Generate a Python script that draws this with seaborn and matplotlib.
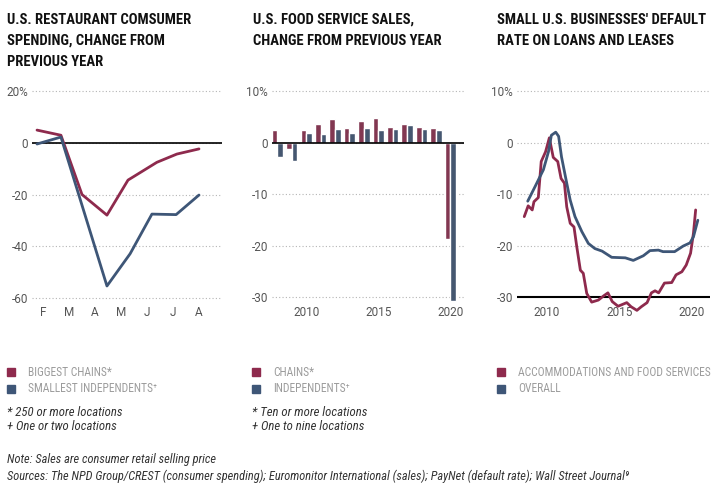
import matplotlib
matplotlib.use("Agg")
import matplotlib.pyplot as plt
import matplotlib.font_manager as fm
from matplotlib.patches import Rectangle
import seaborn as sns
import pandas as pd

RED = "#8e2a4d"
BLUE = "#3e5677"

# chart 1: restaurant consumer spending (month index, F = 0)
months = ["F", "M", "A", "M", "J", "J", "A"]
chains_x = [-0.23, 0.69, 1.5, 2.46, 3.27, 4.38, 5.15, 6.0]
chains_y = [5.0, 3.0, -20.0, -28.0, -14.4, -7.5, -4.3, -2.3]
indep_x = [-0.23, 0.69, 2.46, 3.35, 4.19, 5.12, 6.0]
indep_y = [-0.4, 2.3, -55.5, -43.0, -27.6, -27.8, -20.2]

# chart 2: food service sales
years = list(range(2008, 2021))
sales_chains = [2.5, -1.2, 2.5, 3.6, 4.6, 3.0, 4.2, 4.85, 3.2, 3.7, 3.1, 3.0, -18.6]
sales_indep = [-2.65, -3.5, 1.9, 1.7, 2.8, 1.9, 3.0, 2.5, 2.8, 3.5, 2.8, 2.5, -30.6]

# chart 3: default rate
accom_x = [2008.43, 2008.7, 2008.98, 2009.1, 2009.4, 2009.6, 2009.9, 2010.16, 2010.43,
           2010.74, 2010.97, 2011.2, 2011.36, 2011.6, 2011.86, 2012.05, 2012.3, 2012.5,
           2012.74, 2013.08, 2013.54, 2013.9, 2014.2, 2014.5, 2014.9, 2015.5, 2015.8,
           2016.2, 2016.5, 2016.9, 2017.2, 2017.45, 2017.7, 2018.1, 2018.6, 2018.9,
           2019.3, 2019.6, 2019.9, 2020.1, 2020.25]
accom_y = [-14.3, -12.2, -13.0, -11.4, -10.6, -3.6, -1.7, 1.0, -2.8, -3.6, -6.9, -7.8,
           -12.4, -15.6, -16.3, -20.1, -24.7, -25.3, -29.2, -30.9, -30.5, -29.7, -29.1,
           -30.8, -31.7, -31.0, -31.8, -32.5, -31.8, -31.0, -29.1, -28.7, -29.1, -27.2,
           -27.1, -25.6, -25.0, -23.7, -21.4, -17.5, -13.0]
overall_x = [2008.67, 2009.17, 2009.75, 2010.1, 2010.3, 2010.6, 2010.8, 2011.0, 2011.36,
             2011.6, 2011.93, 2012.4, 2012.85, 2013.3, 2013.8, 2014.46, 2015.4, 2015.95,
             2016.64, 2017.1, 2017.68, 2018.0, 2018.8, 2019.4, 2019.86, 2020.1, 2020.4]
overall_y = [-11.3, -8.5, -5.2, -1.7, 1.5, 2.1, 1.3, -2.7, -7.8, -11.1, -14.3, -17.2,
             -19.5, -20.5, -21.0, -22.2, -22.3, -22.8, -21.9, -20.9, -20.8, -21.1, -21.1,
             -20.0, -19.4, -18.2, -15.0]

sns.set_style("white")
plt.rcParams["font.family"] = ["Roboto", "DejaVu Sans"]


def pick(bold=False, italic=False):
    # look for a condensed / narrow face, else plain Roboto
    want = 700 if bold else 400
    best = None
    for f in fm.fontManager.ttflist:
        if not ("Condensed" in f.name or "Narrow" in f.name
                or str(f.stretch) in ("condensed", "semi-condensed")):
            continue
        w = f.weight if isinstance(f.weight, int) else fm.weight_dict.get(f.weight, 400)
        if (f.style in ("italic", "oblique")) != italic:
            continue
        score = abs(w - want) + (0 if "Roboto" in f.name else 50)
        if best is None or score < best[0]:
            best = (score, f)
    if best:
        return fm.FontProperties(fname=best[1].fname), True
    return fm.FontProperties(family="Roboto", weight="bold" if bold else "normal",
                             style="italic" if italic else "normal"), False


def fp(base, size):
    p = base.copy()
    p.set_size(size)
    return p


TITLE_FONT, cond = pick(bold=True)
LEG_FONT, _ = pick(bold=False)
NOTE_FONT, _ = pick(italic=True)

fig = plt.figure(figsize=(7.26, 4.95), dpi=100)
W, H = 726, 495


def px_axes(x0, x1, y0, y1):
    return fig.add_axes([x0 / W, 1 - y1 / H, (x1 - x0) / W, (y1 - y0) / H])


def style(ax, ticks, labels):
    for s in ax.spines.values():
        s.set_visible(False)
    ax.set_yticks(ticks)
    ax.set_yticklabels(labels)
    ax.tick_params(length=0, labelsize=8.5, colors="#555555", pad=3)
    for t in ticks:
        ax.axhline(t, color="#b5b5b5", lw=0.8, ls=(0, (1, 2)), zorder=0)
    ax.set_xlabel("")
    ax.set_ylabel("")


# ---- chart 1
ax1 = px_axes(32, 222, 85, 303)
d1 = pd.concat([
    pd.DataFrame({"x": chains_x, "y": chains_y, "s": "chains"}),
    pd.DataFrame({"x": indep_x, "y": indep_y, "s": "indep"}),
])
sns.lineplot(data=d1, x="x", y="y", hue="s", palette=[RED, BLUE], lw=2.0,
             legend=False, ax=ax1, clip_on=False)
ax1.set_xlim(-0.423, 6.885)
ax1.set_ylim(-62.1, 22.5)
style(ax1, [20, 0, -20, -40, -60], ["20%", "0", "-20", "-40", "-60"])
ax1.axhline(0, color="black", lw=1.2, zorder=1)
ax1.set_xticks(range(len(months)))
ax1.set_xticklabels(months)
ax1.tick_params(axis="x", pad=2)

# ---- chart 2
ax2 = px_axes(272, 464, 85, 303)
d2 = pd.concat([
    pd.DataFrame({"year": years, "v": sales_chains, "s": "chains"}),
    pd.DataFrame({"year": years, "v": sales_indep, "s": "indep"}),
])
sns.barplot(data=d2, x="year", y="v", hue="s", palette=[RED, BLUE], width=0.78,
            legend=False, ax=ax2, zorder=2)
ax2.set_xlim(-0.38, 12.95)
ax2.set_ylim(-31.07, 11.26)
style(ax2, [10, 0, -10, -20, -30], ["10%", "0", "-10", "-20", "-30"])
ax2.axhline(0, color="black", lw=1.2, zorder=3)
ax2.set_xticks([2, 7, 12])
ax2.set_xticklabels(["2010", "2015", "2020"])
ax2.tick_params(axis="x", pad=2)

# ---- chart 3
ax3 = px_axes(517, 710, 85, 303)
d3 = pd.concat([
    pd.DataFrame({"x": accom_x, "y": accom_y, "s": "accom"}),
    pd.DataFrame({"x": overall_x, "y": overall_y, "s": "overall"}),
])
sns.lineplot(data=d3, x="x", y="y", hue="s", palette=[RED, BLUE], lw=2.0,
             legend=False, ax=ax3, clip_on=False, zorder=3)
ax3.set_xlim(2007.93, 2021.24)
ax3.set_ylim(-31.07, 11.26)
style(ax3, [10, 0, -10, -20], ["10%", "0", "-10", "-20"])
ax3.set_yticks([10, 0, -10, -20, -30])
ax3.set_yticklabels(["10%", "0", "-10", "-20", "-30"])
ax3.axhline(-30, color="black", lw=1.5, zorder=2)
ax3.set_xticks([2010, 2015, 2020])
ax3.set_xticklabels(["2010", "2015", "2020"])
ax3.tick_params(axis="x", pad=2)

# ---- titles
titles = [
    (7, "U.S. RESTAURANT COMSUMER\nSPENDING, CHANGE FROM\nPREVIOUS YEAR"),
    (253, "U.S. FOOD SERVICE SALES,\nCHANGE FROM PREVIOUS YEAR"),
    (497, "SMALL U.S. BUSINESSES' DEFAULT\nRATE ON LOANS AND LEASES"),
]
for x, t in titles:
    fig.text(x / W, 1 - 13 / H, t, fontproperties=fp(TITLE_FONT, 10.5 if cond else 9),
             color="#111111", va="top", ha="left", linespacing=1.62)

# ---- legends
legends = [
    (7, ["BIGGEST CHAINS*", "SMALLEST INDEPENDENTS\u207a"],
     ["* 250 or more locations", "+ One or two locations"]),
    (252, ["CHAINS*", "INDEPENDENTS\u207a"],
     ["* Ten or more locations", "+ One to nine locations"]),
    (497, ["ACCOMMODATIONS AND FOOD SERVICES", "OVERALL"], []),
]
for x, labs, notes in legends:
    for i, (lab, col) in enumerate(zip(labs, [RED, BLUE])):
        yc = 372 + 17 * i
        fig.add_artist(Rectangle((x / W, 1 - (yc + 4) / H), 8 / W, 8 / H,
                                 color=col, transform=fig.transFigure))
        fig.text((x + 21) / W, 1 - yc / H, lab,
                 fontproperties=fp(LEG_FONT, 8.3 if cond else 7.0),
                 color="#9c9c9c", va="center")
    for i, n in enumerate(notes):
        fig.text(x / W, 1 - (413 + 14 * i) / H, n,
                 fontproperties=fp(NOTE_FONT, 9.2 if cond else 7.8),
                 color="#333333", va="center")

fig.text(7 / W, 1 - 460 / H, "Note: Sales are consumer retail selling price",
         fontproperties=fp(NOTE_FONT, 8.9 if cond else 7.8), color="#333333", va="center")
fig.text(7 / W, 1 - 476 / H,
         "Sources: The NPD Group/CREST (consumer spending); Euromonitor International "
         "(sales); PayNet (default rate); Wall Street Journal\u2079",
         fontproperties=fp(NOTE_FONT, 8.9 if cond else 7.8), color="#333333", va="center")

fig.savefig("out.png", dpi=100)
